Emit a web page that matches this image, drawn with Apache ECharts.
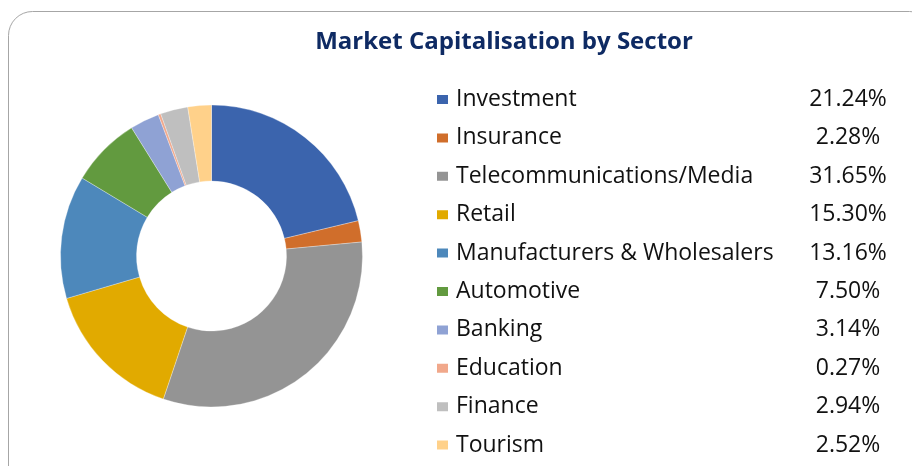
<!DOCTYPE html>
<html>
<head>
<meta charset="utf-8">
<script src="https://cdn.jsdelivr.net/npm/echarts@6/dist/echarts.min.js"></script>
<style>
html,body{margin:0;padding:0;background:#fff;}
#chart{width:912px;height:466px;}
</style>
</head>
<body>
<div id="chart"></div>
<script>
const titleText = 'Market Capitalisation by Sector';
const categories = ['Investment','Insurance','Telecommunications/Media','Retail','Manufacturers & Wholesalers','Automotive','Banking','Education','Finance','Tourism'];
const values = [21.24, 2.28, 31.65, 15.30, 13.16, 7.50, 3.14, 0.27, 2.94, 2.52];
const colors = ['#3B64AD','#D06E2B','#949494','#E1AA00','#4D88BB','#629A3F','#8FA2D4','#F1A88B','#BFBFBF','#FFD18A'];

const chart = echarts.init(document.getElementById('chart'), null, {renderer:'canvas'});
const FONT = '"Open Sans", sans-serif';
const pctOf = {};
categories.forEach((c,i)=>{ pctOf[c] = values[i].toFixed(2) + '%'; });

chart.setOption({
  animation: false,
  backgroundColor: '#fff',
  color: colors,
  title: {
    text: titleText,
    left: 499, top: 25, textAlign: 'center',
    textStyle: { fontFamily: FONT, fontSize: 24, fontWeight: 'bold', color: '#0E2A63' }
  },
  graphic: [{
    type: 'rect', silent: true,
    shape: { x: 8.5, y: 11.5, width: 925, height: 480, r: 24 },
    style: { fill: 'none', stroke: '#A6A6A6', lineWidth: 1 }
  }],
  legend: {
    orient: 'vertical',
    left: 430, top: 83,
    icon: 'rect', itemWidth: 13, itemHeight: 11,
    itemGap: 15.4,
    selectedMode: false,
    data: categories,
    formatter: function(name){ return '{n|' + name + '}{v|' + pctOf[name] + '}'; },
    textStyle: {
      fontFamily: FONT, fontSize: 23, color: '#111', lineHeight: 20,
      rich: {
        n: { fontFamily: FONT, fontSize: 23, color: '#111', width: 350, lineHeight: 20, padding: [0,0,0,2] },
        v: { fontFamily: FONT, fontSize: 23, color: '#111', width: 84, align: 'center', lineHeight: 20 }
      }
    }
  },
  series: [{
    type: 'pie',
    center: [211.5, 256],
    radius: [75, 151],
    startAngle: 90,
    clockwise: true,
    label: { show: false },
    labelLine: { show: false },
    itemStyle: { borderColor: '#fff', borderWidth: 0.3 },
    data: categories.map((c,i)=>({ name: c, value: values[i] }))
  }]
});
</script>
</body>
</html>
